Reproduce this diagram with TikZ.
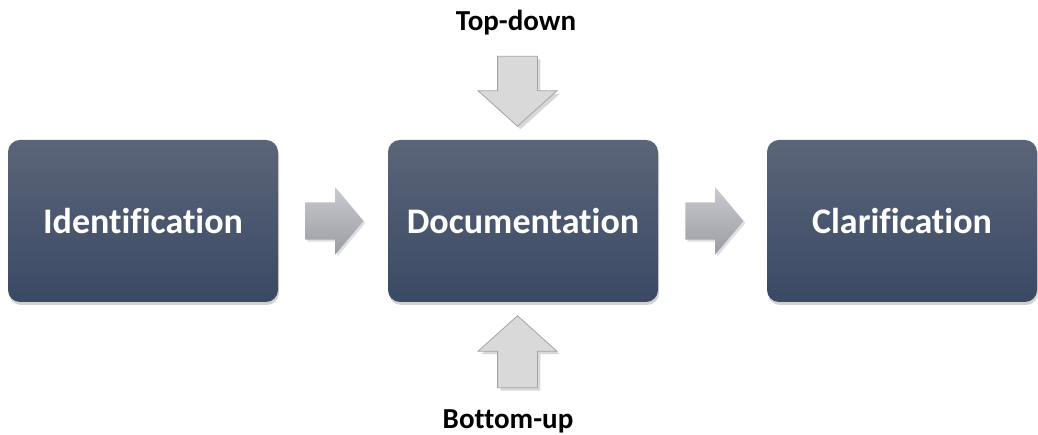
\documentclass[tikz,border=0pt]{standalone}
\usepackage{fontspec}
\setmainfont{Carlito}[Ligatures=NoCommon]
\usetikzlibrary{positioning,calc,shapes.arrows,shadows}

\definecolor{boxtop}{HTML}{5B6579}
\definecolor{boxbot}{HTML}{3A4964}
\definecolor{arrtop}{HTML}{C8CACF}
\definecolor{arrbot}{HTML}{9A9CA3}
\definecolor{feedfill}{HTML}{D9D9D9}
\definecolor{feedline}{HTML}{A3A3A3}

\tikzset{
  stagebox/.style={rectangle, rounded corners=12pt, minimum width=270pt,
    minimum height=162pt, top color=boxtop, bottom color=boxbot,
    text=white, font=\fontsize{36}{42}\selectfont\bfseries,
    drop shadow={shadow xshift=1pt, shadow yshift=-3pt, opacity=0.35}},
  flowarrow/.style={single arrow, inner sep=0pt, inner ysep=18.5pt,
    minimum height=58pt, single arrow head extend=15pt,
    single arrow tip angle=100, top color=arrtop, bottom color=arrbot,
    drop shadow={shadow xshift=2pt, shadow yshift=-2pt, opacity=0.25}},
  feedarrow/.style={single arrow, inner sep=0pt, inner ysep=19.5pt,
    single arrow head extend=19.5pt, single arrow tip angle=96,
    fill=feedfill, draw=feedline, line width=0.8pt,
    drop shadow={shadow xshift=3pt, shadow yshift=-3pt, opacity=0.3}},
  sidelabel/.style={inner sep=0pt, font=\fontsize{29}{34}\selectfont\bfseries}
}

\begin{document}
\begin{tikzpicture}[x=1pt,y=1pt]
%background and bounding box
\fill[white] (0,0) rectangle (1038,435);
\useasboundingbox (0,0) rectangle (1038,435);
%draw the three stages
\node[stagebox] (ident) at (143,214) {Identification};
\node[stagebox] (docu) at (523,214) {Documentation};
\node[stagebox] (clar) at (902,214) {Clarification};
%draw flow arrows between stages
\node[flowarrow, right=27pt of ident] (identdocu) {};
\node[flowarrow, right=27pt of docu] (docuclar) {};
%draw the two inputs of documentation
\node[sidelabel] (toplab) at (516,412) {Top-down};
\node[sidelabel] (botlab) at (508,14) {Bottom-up};
\node[feedarrow, rotate=-90, minimum height=70pt, anchor=tip] (topdown)
  at ($(docu.north)+(-5.5,13)$) {};
\node[feedarrow, rotate=90, minimum height=72pt, anchor=tip] (bottomup)
  at ($(docu.south)+(-5.5,-13)$) {};
\end{tikzpicture}
\end{document}
